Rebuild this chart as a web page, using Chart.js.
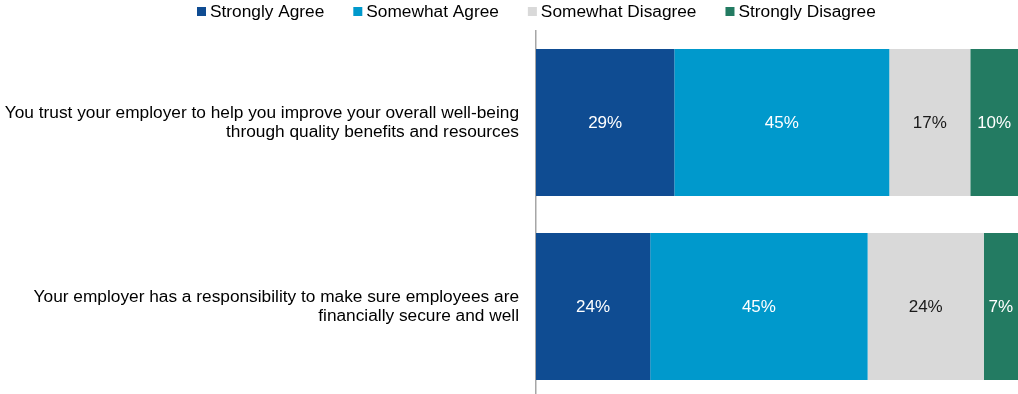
<!DOCTYPE html>
<html>
<head>
<meta charset="utf-8">
<style>
  html, body { margin: 0; padding: 0; background: #ffffff; overflow: hidden; }
  #wrap { position: relative; width: 1018px; height: 399px; }
  canvas { display: block; }
</style>
<script src="https://cdn.jsdelivr.net/npm/chart.js@4.4.1/dist/chart.umd.min.js"></script>
</head>
<body>
<div id="wrap"><canvas id="c" width="1018" height="399"></canvas></div>
<script>
// ---- Data ----
const categories = [
  ['You trust your employer to help you improve your overall well-being', 'through quality benefits and resources'],
  ['Your employer has a responsibility to make sure employees are', 'financially secure and well']
];
const seriesNames = ['Strongly Agree', 'Somewhat Agree', 'Somewhat Disagree', 'Strongly Disagree'];
const stronglyAgree     = [28.7, 23.7];
const somewhatAgree     = [44.6, 45.1];
const somewhatDisagree  = [16.8, 24.1];
const stronglyDisagree  = [9.9, 7.1];
const seriesColors = ['#0F4C92', '#0099CC', '#D9D9D9', '#237B62'];
const labelColors  = ['#ffffff', '#ffffff', '#1a1a1a', '#ffffff'];

const FONT = '"Liberation Sans", Arial, Helvetica, sans-serif';

const seriesValues = [stronglyAgree, somewhatAgree, somewhatDisagree, stronglyDisagree];
const datasets = seriesNames.map((name, i) => ({
  label: name,
  data: seriesValues[i],
  backgroundColor: seriesColors[i],
  borderWidth: 0,
  categoryPercentage: 0.8,
  barPercentage: 1.0
}));

// Value labels inside each segment
const valueLabels = {
  id: 'valueLabels',
  afterDatasetsDraw(chart) {
    const ctx = chart.ctx;
    ctx.save();
    ctx.font = '17px ' + FONT;
    ctx.textAlign = 'center';
    ctx.textBaseline = 'middle';
    chart.data.datasets.forEach((ds, di) => {
      const meta = chart.getDatasetMeta(di);
      meta.data.forEach((bar, j) => {
        const v = ds.data[j];
        const cx = (bar.x + bar.base) / 2;
        ctx.fillStyle = labelColors[di];
        ctx.fillText(Math.round(v) + '%', cx, bar.y + 1);
      });
    });
    ctx.restore();
  }
};

// Legend drawn across the top
const topLegend = {
  id: 'topLegend',
  afterDraw(chart) {
    const ctx = chart.ctx;
    ctx.save();
    ctx.font = '17.3px ' + FONT;
    ctx.textAlign = 'left';
    ctx.textBaseline = 'alphabetic';
    let x = 197;
    chart.data.datasets.forEach((ds) => {
      ctx.fillStyle = ds.backgroundColor;
      ctx.fillRect(x, 7, 9, 9);
      ctx.fillStyle = '#000000';
      const tx = x + 13;
      ctx.fillText(ds.label, tx, 17);
      x = tx + ctx.measureText(ds.label).width + 29;
    });
    ctx.restore();
  }
};

new Chart(document.getElementById('c'), {
  type: 'bar',
  data: { labels: categories, datasets },
  options: {
    indexAxis: 'y',
    responsive: false,
    maintainAspectRatio: false,
    animation: false,
    devicePixelRatio: 1,
    layout: { padding: { top: 30.5, bottom: 0.5, left: 0, right: 0 } },
    plugins: {
      legend: { display: false },
      tooltip: { enabled: false },
      title: { display: false }
    },
    scales: {
      x: {
        stacked: true,
        min: 0,
        max: 100,
        display: false
      },
      y: {
        stacked: true,
        grid: { display: false, drawTicks: false },
        border: { display: true, color: '#a6a6a6', width: 1.5 },
        ticks: {
          color: '#000000',
          padding: 17,
          font: { family: FONT, size: 17.3, lineHeight: 1.07 }
        },
        afterFit(scale) {
          scale.width = 536;
          scale.paddingTop = 0;
          scale.paddingBottom = 0;
        }
      }
    }
  },
  plugins: [valueLabels, topLegend]
});
</script>
</body>
</html>
